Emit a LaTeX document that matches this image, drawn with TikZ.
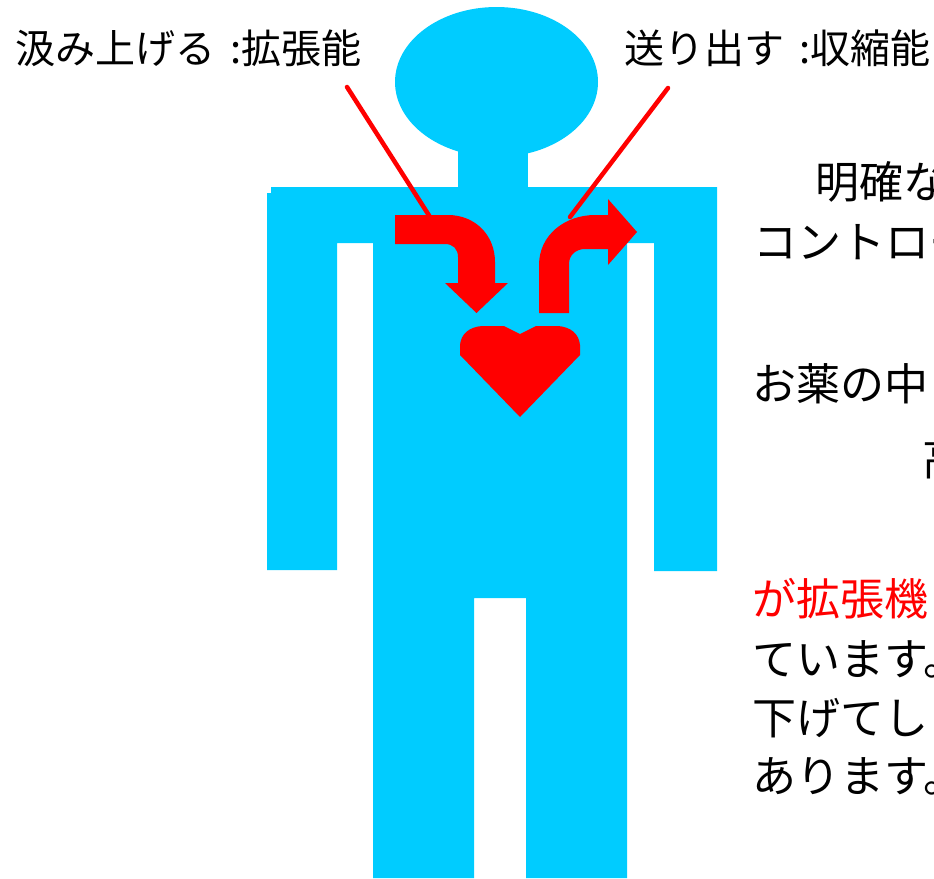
\documentclass[tikz,border=0pt]{standalone}
\usepackage{fontspec}
\setmainfont{Noto Sans CJK JP}
\definecolor{bodyblue}{RGB}{0,204,255}
\definecolor{heartred}{RGB}{255,0,0}
\begin{document}
\begin{tikzpicture}[x=1pt,y=-1pt,
  figure/.style={fill=bodyblue,draw=none},
  redshape/.style={fill=heartred,draw=none},
  pointer/.style={draw=heartred,line width=4.5pt,line cap=round},
  label/.style={anchor=base west,inner sep=0pt,font=\fontsize{40}{48}\selectfont},
  bodytext/.style={anchor=base west,inner sep=0pt,font=\fontsize{44}{54}\selectfont},
  redtext/.style={bodytext,text=heartred}]
\useasboundingbox (0,0) rectangle (934,878);
\clip (0,0) rectangle (934,878);

% figure: head, neck, shoulders, arms, torso and legs
\fill[figure] (496.5,82) ellipse [x radius=101.5, y radius=75];
\fill[figure] (458,148) rectangle (528,190);
\fill[figure] (271,187) -- (717,187) -- (717,571) -- (654,571) -- (654,243)
  -- (627,243) -- (627,878) -- (526,878) -- (526,598) -- (474,598)
  -- (474,878) -- (373,878) -- (373,243) -- (337,243) -- (337,570)
  -- (267,570) -- (267,193) -- (271,193) -- cycle;

% heart
\fill[redshape] (520,417) -- (460,355) -- (460,345)
  .. controls (461,334) and (469,327) .. (482,326) -- (504,326) -- (520,334)
  -- (536,326) -- (558,326) .. controls (571,327) and (579,334) .. (580,345)
  -- (580,355) -- cycle;

% inflow arrow (into the heart)
\fill[redshape] (395,215) -- (448,215) .. controls (475,215) and (495,235) .. (495,262)
  -- (495,283) -- (508,283) -- (476.5,313) -- (445,283) -- (458,283) -- (458,257)
  .. controls (458,249) and (453,244) .. (445,244) -- (395,244) -- cycle;
\coordinate (inTop) at (430,217);

% outflow arrow (out of the heart)
\fill[redshape] (539,313) -- (539,265) .. controls (539,235) and (565,215) .. (595,215)
  -- (608,215) -- (608,199) -- (637,232) -- (608,265) -- (608,249) -- (585,249)
  .. controls (576,249) and (569,255) .. (569,264) -- (569,313) -- cycle;
\coordinate (outTop) at (570,217);

% labels and their pointers
\node[label] (pump) at (15,63) {汲み上げる\hspace{0.15em} :拡張能};
\node[label] (send) at (624,63) {送り出す\hspace{0.15em} :収縮能};
\coordinate (pumpEnd) at (347,87);
\coordinate (sendEnd) at (668,88);
\draw[pointer] (pumpEnd) -- (inTop);
\draw[pointer] (sendEnd) -- (outTop);

% explanatory text on the right
\node[bodytext] (t1) at (815,198) {明確な};
\node[bodytext] (t2) at (753,258) {コントロー};
\node[bodytext] (t3) at (752,400) {お薬の中};
\node[bodytext] (t4) at (922,475) {高};
\node[redtext]  (t5) at (752,615) {が拡張機};
\node[bodytext] (t6) at (752,675) {ています。};
\node[bodytext] (t7) at (752,734) {下げてし};
\node[bodytext] (t8) at (752,792) {あります。};
\end{tikzpicture}
\end{document}
